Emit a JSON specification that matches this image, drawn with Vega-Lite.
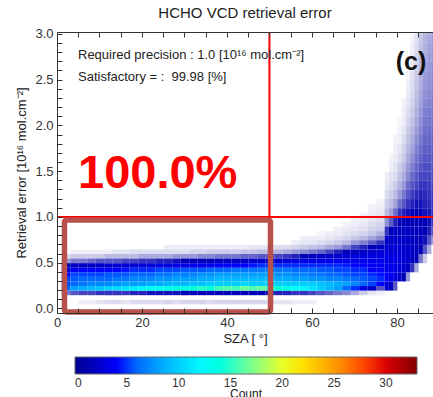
{
"$schema":"https://vega.github.io/schema/vega-lite/v6.json",
"width":376,"height":281,
"autosize":{"type":"none"},
"padding":{"left":57,"top":32,"right":0,"bottom":84},
"background":"white",
"title":{"text":"HCHO VCD retrieval error","fontSize":15,"fontWeight":"normal","font":"Liberation Sans","color":"#222","anchor":"middle","offset":7},
"config":{"font":"Liberation Sans","view":{"stroke":null},
 "axis":{"domainColor":"#333","tickColor":"#333","labelColor":"#333","labelFontSize":13,"titleFontSize":13,"titleFontWeight":"normal","titleColor":"#222","grid":false,"labelFont":"Liberation Sans","titleFont":"Liberation Sans"},
 "legend":{"labelFontSize":12,"labelColor":"#333","titleFontSize":12,"titleFontWeight":"normal","titleColor":"#222","labelFont":"Liberation Sans","titleFont":"Liberation Sans"}},
"resolve":{"axis":{"x":"independent","y":"independent"}},
"datasets":{
"main":[
{"a":1,"e":0.15,"n":0.8},{"a":1,"e":0.2,"n":6},{"a":1,"e":0.25,"n":5},{"a":1,"e":0.3,"n":5},{"a":1,"e":0.35,"n":4},{"a":1,"e":0.4,"n":3},{"a":1,"e":0.45,"n":1.5},{"a":1,"e":0.5,"n":0.6},{"a":1,"e":0.55,"n":0.2},
{"a":3,"e":0.15,"n":1},{"a":3,"e":0.2,"n":8},{"a":3,"e":0.25,"n":6},{"a":3,"e":0.3,"n":5.5},{"a":3,"e":0.35,"n":5},{"a":3,"e":0.4,"n":3.5},{"a":3,"e":0.45,"n":2},{"a":3,"e":0.5,"n":0.8},{"a":3,"e":0.55,"n":0.3},{"a":3,"e":0.6,"n":0.1},
{"a":5,"e":0.05,"n":0.1},{"a":5,"e":0.15,"n":1.1},{"a":5,"e":0.2,"n":8.5},{"a":5,"e":0.25,"n":6.5},{"a":5,"e":0.3,"n":6},{"a":5,"e":0.35,"n":5},{"a":5,"e":0.4,"n":4},{"a":5,"e":0.45,"n":2},{"a":5,"e":0.5,"n":0.8},{"a":5,"e":0.55,"n":0.3},{"a":5,"e":0.6,"n":0.1},
{"a":7,"e":0.05,"n":0.1},{"a":7,"e":0.15,"n":1.1},{"a":7,"e":0.2,"n":9},{"a":7,"e":0.25,"n":7},{"a":7,"e":0.3,"n":6},{"a":7,"e":0.35,"n":5},{"a":7,"e":0.4,"n":4},{"a":7,"e":0.45,"n":2},{"a":7,"e":0.5,"n":0.9},{"a":7,"e":0.55,"n":0.3},{"a":7,"e":0.6,"n":0.1},
{"a":9,"e":0.05,"n":0.15},{"a":9,"e":0.15,"n":1.2},{"a":9,"e":0.2,"n":9.5},{"a":9,"e":0.25,"n":7},{"a":9,"e":0.3,"n":6},{"a":9,"e":0.35,"n":5},{"a":9,"e":0.4,"n":4},{"a":9,"e":0.45,"n":2.2},{"a":9,"e":0.5,"n":1},{"a":9,"e":0.55,"n":0.3},{"a":9,"e":0.6,"n":0.1},
{"a":11,"e":0.05,"n":0.2},{"a":11,"e":0.15,"n":1.2},{"a":11,"e":0.2,"n":10},{"a":11,"e":0.25,"n":7},{"a":11,"e":0.3,"n":6},{"a":11,"e":0.35,"n":5.5},{"a":11,"e":0.4,"n":4},{"a":11,"e":0.45,"n":2.3},{"a":11,"e":0.5,"n":1},{"a":11,"e":0.55,"n":0.4},{"a":11,"e":0.6,"n":0.1},
{"a":13,"e":0.05,"n":0.2},{"a":13,"e":0.15,"n":1.2},{"a":13,"e":0.2,"n":10.5},{"a":13,"e":0.25,"n":7.5},{"a":13,"e":0.3,"n":6.5},{"a":13,"e":0.35,"n":5.5},{"a":13,"e":0.4,"n":4},{"a":13,"e":0.45,"n":2.5},{"a":13,"e":0.5,"n":1},{"a":13,"e":0.55,"n":0.4},{"a":13,"e":0.6,"n":0.15},
{"a":15,"e":0.05,"n":0.15},{"a":15,"e":0.15,"n":1.2},{"a":15,"e":0.2,"n":11},{"a":15,"e":0.25,"n":8},{"a":15,"e":0.3,"n":6.5},{"a":15,"e":0.35,"n":5.5},{"a":15,"e":0.4,"n":4.2},{"a":15,"e":0.45,"n":2.5},{"a":15,"e":0.5,"n":1.1},{"a":15,"e":0.55,"n":0.4},{"a":15,"e":0.6,"n":0.15},
{"a":17,"e":0.05,"n":0.2},{"a":17,"e":0.15,"n":1.3},{"a":17,"e":0.2,"n":11.5},{"a":17,"e":0.25,"n":8},{"a":17,"e":0.3,"n":7},{"a":17,"e":0.35,"n":6},{"a":17,"e":0.4,"n":4.5},{"a":17,"e":0.45,"n":2.6},{"a":17,"e":0.5,"n":1.1},{"a":17,"e":0.55,"n":0.4},{"a":17,"e":0.6,"n":0.2},
{"a":19,"e":0.05,"n":0.2},{"a":19,"e":0.15,"n":1.3},{"a":19,"e":0.2,"n":12},{"a":19,"e":0.25,"n":8},{"a":19,"e":0.3,"n":7},{"a":19,"e":0.35,"n":6},{"a":19,"e":0.4,"n":4.5},{"a":19,"e":0.45,"n":2.8},{"a":19,"e":0.5,"n":1.2},{"a":19,"e":0.55,"n":0.5},{"a":19,"e":0.6,"n":0.2},
{"a":21,"e":0.05,"n":0.2},{"a":21,"e":0.15,"n":1.4},{"a":21,"e":0.2,"n":12.5},{"a":21,"e":0.25,"n":8.5},{"a":21,"e":0.3,"n":7},{"a":21,"e":0.35,"n":6},{"a":21,"e":0.4,"n":4.5},{"a":21,"e":0.45,"n":2.8},{"a":21,"e":0.5,"n":1.2},{"a":21,"e":0.55,"n":0.5},{"a":21,"e":0.6,"n":0.2},
{"a":23,"e":0.05,"n":0.2},{"a":23,"e":0.15,"n":1.4},{"a":23,"e":0.2,"n":13},{"a":23,"e":0.25,"n":8.5},{"a":23,"e":0.3,"n":7.5},{"a":23,"e":0.35,"n":6.5},{"a":23,"e":0.4,"n":5},{"a":23,"e":0.45,"n":3},{"a":23,"e":0.5,"n":1.3},{"a":23,"e":0.55,"n":0.5},{"a":23,"e":0.6,"n":0.2},
{"a":25,"e":0.05,"n":0.25},{"a":25,"e":0.15,"n":1.4},{"a":25,"e":0.2,"n":13.5},{"a":25,"e":0.25,"n":9},{"a":25,"e":0.3,"n":7.5},{"a":25,"e":0.35,"n":6.5},{"a":25,"e":0.4,"n":5},{"a":25,"e":0.45,"n":3},{"a":25,"e":0.5,"n":1.3},{"a":25,"e":0.55,"n":0.5},{"a":25,"e":0.6,"n":0.2},{"a":25,"e":0.65,"n":0.1},
{"a":27,"e":0.05,"n":0.2},{"a":27,"e":0.15,"n":1.4},{"a":27,"e":0.2,"n":14},{"a":27,"e":0.25,"n":9},{"a":27,"e":0.3,"n":8},{"a":27,"e":0.35,"n":7},{"a":27,"e":0.4,"n":5},{"a":27,"e":0.45,"n":3.2},{"a":27,"e":0.5,"n":1.4},{"a":27,"e":0.55,"n":0.6},{"a":27,"e":0.6,"n":0.2},{"a":27,"e":0.65,"n":0.1},
{"a":29,"e":0.05,"n":0.25},{"a":29,"e":0.15,"n":1.5},{"a":29,"e":0.2,"n":14},{"a":29,"e":0.25,"n":9},{"a":29,"e":0.3,"n":8},{"a":29,"e":0.35,"n":7},{"a":29,"e":0.4,"n":5.5},{"a":29,"e":0.45,"n":3.2},{"a":29,"e":0.5,"n":1.5},{"a":29,"e":0.55,"n":0.6},{"a":29,"e":0.6,"n":0.2},{"a":29,"e":0.65,"n":0.1},
{"a":31,"e":0.05,"n":0.25},{"a":31,"e":0.15,"n":1.5},{"a":31,"e":0.2,"n":14.5},{"a":31,"e":0.25,"n":9.5},{"a":31,"e":0.3,"n":8},{"a":31,"e":0.35,"n":7},{"a":31,"e":0.4,"n":5.5},{"a":31,"e":0.45,"n":3.4},{"a":31,"e":0.5,"n":1.5},{"a":31,"e":0.55,"n":0.6},{"a":31,"e":0.6,"n":0.25},{"a":31,"e":0.65,"n":0.1},
{"a":33,"e":0.05,"n":0.25},{"a":33,"e":0.15,"n":1.5},{"a":33,"e":0.2,"n":15},{"a":33,"e":0.25,"n":9.5},{"a":33,"e":0.3,"n":8.5},{"a":33,"e":0.35,"n":7.5},{"a":33,"e":0.4,"n":5.5},{"a":33,"e":0.45,"n":3.5},{"a":33,"e":0.5,"n":1.6},{"a":33,"e":0.55,"n":0.7},{"a":33,"e":0.6,"n":0.25},{"a":33,"e":0.65,"n":0.1},
{"a":35,"e":0.05,"n":0.2},{"a":35,"e":0.15,"n":1.5},{"a":35,"e":0.2,"n":14.5},{"a":35,"e":0.25,"n":10},{"a":35,"e":0.3,"n":8.5},{"a":35,"e":0.35,"n":7.5},{"a":35,"e":0.4,"n":6},{"a":35,"e":0.45,"n":3.5},{"a":35,"e":0.5,"n":1.6},{"a":35,"e":0.55,"n":0.7},{"a":35,"e":0.6,"n":0.3},{"a":35,"e":0.65,"n":0.1},
{"a":37,"e":0.05,"n":0.25},{"a":37,"e":0.15,"n":1.5},{"a":37,"e":0.2,"n":15.5},{"a":37,"e":0.25,"n":10},{"a":37,"e":0.3,"n":9},{"a":37,"e":0.35,"n":8},{"a":37,"e":0.4,"n":6},{"a":37,"e":0.45,"n":3.8},{"a":37,"e":0.5,"n":1.8},{"a":37,"e":0.55,"n":0.8},{"a":37,"e":0.6,"n":0.3},{"a":37,"e":0.65,"n":0.1},
{"a":39,"e":0.05,"n":0.25},{"a":39,"e":0.15,"n":1.5},{"a":39,"e":0.2,"n":16},{"a":39,"e":0.25,"n":10},{"a":39,"e":0.3,"n":9},{"a":39,"e":0.35,"n":8},{"a":39,"e":0.4,"n":6},{"a":39,"e":0.45,"n":4},{"a":39,"e":0.5,"n":1.8},{"a":39,"e":0.55,"n":0.8},{"a":39,"e":0.6,"n":0.3},{"a":39,"e":0.65,"n":0.1},
{"a":41,"e":0.05,"n":0.25},{"a":41,"e":0.15,"n":1.5},{"a":41,"e":0.2,"n":15.5},{"a":41,"e":0.25,"n":10},{"a":41,"e":0.3,"n":9},{"a":41,"e":0.35,"n":8},{"a":41,"e":0.4,"n":6.5},{"a":41,"e":0.45,"n":4},{"a":41,"e":0.5,"n":2},{"a":41,"e":0.55,"n":0.8},{"a":41,"e":0.6,"n":0.3},{"a":41,"e":0.65,"n":0.1},
{"a":43,"e":0.05,"n":0.25},{"a":43,"e":0.15,"n":1.5},{"a":43,"e":0.2,"n":16.5},{"a":43,"e":0.25,"n":10.5},{"a":43,"e":0.3,"n":9},{"a":43,"e":0.35,"n":8},{"a":43,"e":0.4,"n":6.5},{"a":43,"e":0.45,"n":4},{"a":43,"e":0.5,"n":2},{"a":43,"e":0.55,"n":0.9},{"a":43,"e":0.6,"n":0.35},{"a":43,"e":0.65,"n":0.1},
{"a":45,"e":0.05,"n":0.25},{"a":45,"e":0.15,"n":1.5},{"a":45,"e":0.2,"n":16},{"a":45,"e":0.25,"n":10},{"a":45,"e":0.3,"n":9},{"a":45,"e":0.35,"n":8},{"a":45,"e":0.4,"n":6.5},{"a":45,"e":0.45,"n":4.2},{"a":45,"e":0.5,"n":2.2},{"a":45,"e":0.55,"n":0.9},{"a":45,"e":0.6,"n":0.35},{"a":45,"e":0.65,"n":0.15},
{"a":47,"e":0.05,"n":0.25},{"a":47,"e":0.15,"n":1.5},{"a":47,"e":0.2,"n":16.5},{"a":47,"e":0.25,"n":10},{"a":47,"e":0.3,"n":9},{"a":47,"e":0.35,"n":8},{"a":47,"e":0.4,"n":6.5},{"a":47,"e":0.45,"n":4.5},{"a":47,"e":0.5,"n":2.3},{"a":47,"e":0.55,"n":1},{"a":47,"e":0.6,"n":0.4},{"a":47,"e":0.65,"n":0.15},
{"a":49,"e":0.05,"n":0.2},{"a":49,"e":0.15,"n":1.4},{"a":49,"e":0.2,"n":15.5},{"a":49,"e":0.25,"n":10},{"a":49,"e":0.3,"n":9},{"a":49,"e":0.35,"n":8},{"a":49,"e":0.4,"n":6.5},{"a":49,"e":0.45,"n":4.5},{"a":49,"e":0.5,"n":2.4},{"a":49,"e":0.55,"n":1},{"a":49,"e":0.6,"n":0.4},{"a":49,"e":0.65,"n":0.15},
{"a":51,"e":0.05,"n":0.15},{"a":51,"e":0.15,"n":1.3},{"a":51,"e":0.2,"n":14.5},{"a":51,"e":0.25,"n":10},{"a":51,"e":0.3,"n":8.5},{"a":51,"e":0.35,"n":7.5},{"a":51,"e":0.4,"n":6.5},{"a":51,"e":0.45,"n":4.5},{"a":51,"e":0.5,"n":2.5},{"a":51,"e":0.55,"n":1.1},{"a":51,"e":0.6,"n":0.45},{"a":51,"e":0.65,"n":0.2},
{"a":53,"e":0.05,"n":0.15},{"a":53,"e":0.15,"n":1.3},{"a":53,"e":0.2,"n":13.5},{"a":53,"e":0.25,"n":10},{"a":53,"e":0.3,"n":8.5},{"a":53,"e":0.35,"n":7.5},{"a":53,"e":0.4,"n":6.5},{"a":53,"e":0.45,"n":4.5},{"a":53,"e":0.5,"n":2.6},{"a":53,"e":0.55,"n":1.2},{"a":53,"e":0.6,"n":0.5},{"a":53,"e":0.65,"n":0.2},
{"a":55,"e":0.05,"n":0.1},{"a":55,"e":0.15,"n":1.2},{"a":55,"e":0.2,"n":12.5},{"a":55,"e":0.25,"n":10},{"a":55,"e":0.3,"n":8},{"a":55,"e":0.35,"n":7},{"a":55,"e":0.4,"n":6},{"a":55,"e":0.45,"n":4.5},{"a":55,"e":0.5,"n":2.8},{"a":55,"e":0.55,"n":1.3},{"a":55,"e":0.6,"n":0.6},{"a":55,"e":0.65,"n":0.25},{"a":55,"e":0.7,"n":0.1},
{"a":57,"e":0.05,"n":0.1},{"a":57,"e":0.15,"n":1.2},{"a":57,"e":0.2,"n":12},{"a":57,"e":0.25,"n":10},{"a":57,"e":0.3,"n":8},{"a":57,"e":0.35,"n":7},{"a":57,"e":0.4,"n":6},{"a":57,"e":0.45,"n":4.5},{"a":57,"e":0.5,"n":3},{"a":57,"e":0.55,"n":1.5},{"a":57,"e":0.6,"n":0.7},{"a":57,"e":0.65,"n":0.3},{"a":57,"e":0.7,"n":0.15},{"a":57,"e":0.75,"n":0.1},
{"a":59,"e":0.05,"n":0.1},{"a":59,"e":0.15,"n":1.1},{"a":59,"e":0.2,"n":11},{"a":59,"e":0.25,"n":10},{"a":59,"e":0.3,"n":7.5},{"a":59,"e":0.35,"n":6.5},{"a":59,"e":0.4,"n":6},{"a":59,"e":0.45,"n":4.5},{"a":59,"e":0.5,"n":3},{"a":59,"e":0.55,"n":1.8},{"a":59,"e":0.6,"n":0.8},{"a":59,"e":0.65,"n":0.35},{"a":59,"e":0.7,"n":0.15},{"a":59,"e":0.75,"n":0.1},
{"a":61,"e":0.15,"n":1},{"a":61,"e":0.2,"n":10},{"a":61,"e":0.25,"n":9.5},{"a":61,"e":0.3,"n":7.5},{"a":61,"e":0.35,"n":6.5},{"a":61,"e":0.4,"n":5.5},{"a":61,"e":0.45,"n":4.5},{"a":61,"e":0.5,"n":3.2},{"a":61,"e":0.55,"n":2},{"a":61,"e":0.6,"n":0.9},{"a":61,"e":0.65,"n":0.4},{"a":61,"e":0.7,"n":0.2},{"a":61,"e":0.75,"n":0.1},{"a":61,"e":0.8,"n":0.05},
{"a":63,"e":0.15,"n":0.9},{"a":63,"e":0.2,"n":9},{"a":63,"e":0.25,"n":9},{"a":63,"e":0.3,"n":7},{"a":63,"e":0.35,"n":6},{"a":63,"e":0.4,"n":5.5},{"a":63,"e":0.45,"n":4.5},{"a":63,"e":0.5,"n":3.4},{"a":63,"e":0.55,"n":2.2},{"a":63,"e":0.6,"n":1.1},{"a":63,"e":0.65,"n":0.5},{"a":63,"e":0.7,"n":0.25},{"a":63,"e":0.75,"n":0.14},{"a":63,"e":0.8,"n":0.1},
{"a":65,"e":0.15,"n":0.8},{"a":65,"e":0.2,"n":8},{"a":65,"e":0.25,"n":8.5},{"a":65,"e":0.3,"n":7},{"a":65,"e":0.35,"n":6},{"a":65,"e":0.4,"n":5},{"a":65,"e":0.45,"n":4.5},{"a":65,"e":0.5,"n":3.4},{"a":65,"e":0.55,"n":2.4},{"a":65,"e":0.6,"n":1.3},{"a":65,"e":0.65,"n":0.6},{"a":65,"e":0.7,"n":0.32},{"a":65,"e":0.75,"n":0.18},{"a":65,"e":0.8,"n":0.12},{"a":65,"e":0.85,"n":0.08},
{"a":67,"e":0.15,"n":0.7},{"a":67,"e":0.2,"n":6},{"a":67,"e":0.25,"n":8},{"a":67,"e":0.3,"n":6.5},{"a":67,"e":0.35,"n":5.5},{"a":67,"e":0.4,"n":5},{"a":67,"e":0.45,"n":4.3},{"a":67,"e":0.5,"n":3.4},{"a":67,"e":0.55,"n":2.6},{"a":67,"e":0.6,"n":1.6},{"a":67,"e":0.65,"n":0.8},{"a":67,"e":0.7,"n":0.42},{"a":67,"e":0.75,"n":0.24},{"a":67,"e":0.8,"n":0.16},{"a":67,"e":0.85,"n":0.11},{"a":67,"e":0.9,"n":0.08},
{"a":69,"e":0.15,"n":0.5},{"a":69,"e":0.2,"n":4.5},{"a":69,"e":0.25,"n":7},{"a":69,"e":0.3,"n":6},{"a":69,"e":0.35,"n":5},{"a":69,"e":0.4,"n":4.5},{"a":69,"e":0.45,"n":4},{"a":69,"e":0.5,"n":3.4},{"a":69,"e":0.55,"n":2.8},{"a":69,"e":0.6,"n":1.9},{"a":69,"e":0.65,"n":1.1},{"a":69,"e":0.7,"n":0.6},{"a":69,"e":0.75,"n":0.34},{"a":69,"e":0.8,"n":0.2},{"a":69,"e":0.85,"n":0.14},{"a":69,"e":0.9,"n":0.1},{"a":69,"e":0.95,"n":0.08},
{"a":71,"e":0.15,"n":0.3},{"a":71,"e":0.2,"n":3},{"a":71,"e":0.25,"n":6},{"a":71,"e":0.3,"n":5.5},{"a":71,"e":0.35,"n":5},{"a":71,"e":0.4,"n":4.5},{"a":71,"e":0.45,"n":4},{"a":71,"e":0.5,"n":3.4},{"a":71,"e":0.55,"n":2.9},{"a":71,"e":0.6,"n":2.1},{"a":71,"e":0.65,"n":1.3},{"a":71,"e":0.7,"n":0.75},{"a":71,"e":0.75,"n":0.42},{"a":71,"e":0.8,"n":0.26},{"a":71,"e":0.85,"n":0.18},{"a":71,"e":0.9,"n":0.14},{"a":71,"e":0.95,"n":0.1},{"a":71,"e":1.0,"n":0.08},
{"a":73,"e":0.15,"n":0.15},{"a":73,"e":0.2,"n":2},{"a":73,"e":0.25,"n":5},{"a":73,"e":0.3,"n":5},{"a":73,"e":0.35,"n":4.5},{"a":73,"e":0.4,"n":4},{"a":73,"e":0.45,"n":3.8},{"a":73,"e":0.5,"n":3.4},{"a":73,"e":0.55,"n":3},{"a":73,"e":0.6,"n":2.3},{"a":73,"e":0.65,"n":1.5},{"a":73,"e":0.7,"n":0.95},{"a":73,"e":0.75,"n":0.55},{"a":73,"e":0.8,"n":0.34},{"a":73,"e":0.85,"n":0.25},{"a":73,"e":0.9,"n":0.2},{"a":73,"e":0.95,"n":0.16},{"a":73,"e":1.0,"n":0.12},{"a":73,"e":1.05,"n":0.1},{"a":73,"e":1.1,"n":0.07},
{"a":75,"e":0.15,"n":0.1},{"a":75,"e":0.2,"n":1},{"a":75,"e":0.25,"n":4},{"a":75,"e":0.3,"n":4.5},{"a":75,"e":0.35,"n":4.2},{"a":75,"e":0.4,"n":4},{"a":75,"e":0.45,"n":3.6},{"a":75,"e":0.5,"n":3.3},{"a":75,"e":0.55,"n":3},{"a":75,"e":0.6,"n":2.5},{"a":75,"e":0.65,"n":1.8},{"a":75,"e":0.7,"n":1.2},{"a":75,"e":0.75,"n":0.7},{"a":75,"e":0.8,"n":0.45},{"a":75,"e":0.85,"n":0.3},{"a":75,"e":0.9,"n":0.25},{"a":75,"e":0.95,"n":0.2},{"a":75,"e":1.0,"n":0.16},{"a":75,"e":1.05,"n":0.12},{"a":75,"e":1.1,"n":0.1},{"a":75,"e":1.15,"n":0.07}
],
"tail":[
{"a":77,"e":0.2,"n":2.5},{"a":77,"e":0.3,"n":4},{"a":77,"e":0.4,"n":3.5},{"a":77,"e":0.5,"n":3.2},{"a":77,"e":0.6,"n":2.7},{"a":77,"e":0.7,"n":2},{"a":77,"e":0.8,"n":1.2},{"a":77,"e":0.9,"n":0.65},{"a":77,"e":1.0,"n":0.4},{"a":77,"e":1.1,"n":0.28},{"a":77,"e":1.2,"n":0.2},{"a":77,"e":1.3,"n":0.14},{"a":77,"e":1.4,"n":0.1},
{"a":78,"e":0.2,"n":2},{"a":78,"e":0.3,"n":3.5},{"a":78,"e":0.4,"n":3.5},{"a":78,"e":0.5,"n":3},{"a":78,"e":0.6,"n":2.6},{"a":78,"e":0.7,"n":2.1},{"a":78,"e":0.8,"n":1.5},{"a":78,"e":0.9,"n":0.95},{"a":78,"e":1.0,"n":0.55},{"a":78,"e":1.1,"n":0.38},{"a":78,"e":1.2,"n":0.28},{"a":78,"e":1.3,"n":0.2},{"a":78,"e":1.4,"n":0.15},{"a":78,"e":1.5,"n":0.1},{"a":78,"e":1.6,"n":0.07},
{"a":79,"e":0.2,"n":1},{"a":79,"e":0.3,"n":3},{"a":79,"e":0.4,"n":3.2},{"a":79,"e":0.5,"n":3},{"a":79,"e":0.6,"n":2.7},{"a":79,"e":0.7,"n":2.3},{"a":79,"e":0.8,"n":1.8},{"a":79,"e":0.9,"n":1.3},{"a":79,"e":1.0,"n":0.85},{"a":79,"e":1.1,"n":0.55},{"a":79,"e":1.2,"n":0.4},{"a":79,"e":1.3,"n":0.3},{"a":79,"e":1.4,"n":0.22},{"a":79,"e":1.5,"n":0.16},{"a":79,"e":1.6,"n":0.12},{"a":79,"e":1.7,"n":0.1},{"a":79,"e":1.8,"n":0.07},
{"a":80,"e":0.3,"n":2.5},{"a":80,"e":0.4,"n":3},{"a":80,"e":0.5,"n":2.8},{"a":80,"e":0.6,"n":2.5},{"a":80,"e":0.7,"n":2.2},{"a":80,"e":0.8,"n":1.9},{"a":80,"e":0.9,"n":1.6},{"a":80,"e":1.0,"n":1.2},{"a":80,"e":1.1,"n":0.85},{"a":80,"e":1.2,"n":0.6},{"a":80,"e":1.3,"n":0.45},{"a":80,"e":1.4,"n":0.35},{"a":80,"e":1.5,"n":0.28},{"a":80,"e":1.6,"n":0.2},{"a":80,"e":1.7,"n":0.15},{"a":80,"e":1.8,"n":0.1},{"a":80,"e":1.9,"n":0.08},{"a":80,"e":2.0,"n":0.06},
{"a":81,"e":0.3,"n":1.5},{"a":81,"e":0.4,"n":2.5},{"a":81,"e":0.5,"n":2.6},{"a":81,"e":0.6,"n":2.4},{"a":81,"e":0.7,"n":2.2},{"a":81,"e":0.8,"n":1.9},{"a":81,"e":0.9,"n":1.6},{"a":81,"e":1.0,"n":1.3},{"a":81,"e":1.1,"n":1},{"a":81,"e":1.2,"n":0.8},{"a":81,"e":1.3,"n":0.6},{"a":81,"e":1.4,"n":0.5},{"a":81,"e":1.5,"n":0.4},{"a":81,"e":1.6,"n":0.32},{"a":81,"e":1.7,"n":0.26},{"a":81,"e":1.8,"n":0.2},{"a":81,"e":1.9,"n":0.15},{"a":81,"e":2.0,"n":0.12},{"a":81,"e":2.1,"n":0.1},{"a":81,"e":2.2,"n":0.07},
{"a":82,"e":0.3,"n":0.6},{"a":82,"e":0.4,"n":2},{"a":82,"e":0.5,"n":2.3},{"a":82,"e":0.6,"n":2.2},{"a":82,"e":0.7,"n":2},{"a":82,"e":0.8,"n":1.8},{"a":82,"e":0.9,"n":1.6},{"a":82,"e":1.0,"n":1.4},{"a":82,"e":1.1,"n":1.2},{"a":82,"e":1.2,"n":1},{"a":82,"e":1.3,"n":0.85},{"a":82,"e":1.4,"n":0.7},{"a":82,"e":1.5,"n":0.6},{"a":82,"e":1.6,"n":0.5},{"a":82,"e":1.7,"n":0.42},{"a":82,"e":1.8,"n":0.36},{"a":82,"e":1.9,"n":0.3},{"a":82,"e":2.0,"n":0.25},{"a":82,"e":2.1,"n":0.2},{"a":82,"e":2.2,"n":0.16},{"a":82,"e":2.3,"n":0.12},{"a":82,"e":2.4,"n":0.1},{"a":82,"e":2.5,"n":0.07},
{"a":83,"e":0.4,"n":1.2},{"a":83,"e":0.5,"n":2},{"a":83,"e":0.6,"n":2},{"a":83,"e":0.7,"n":1.9},{"a":83,"e":0.8,"n":1.8},{"a":83,"e":0.9,"n":1.6},{"a":83,"e":1.0,"n":1.5},{"a":83,"e":1.1,"n":1.3},{"a":83,"e":1.2,"n":1.15},{"a":83,"e":1.3,"n":1},{"a":83,"e":1.4,"n":0.88},{"a":83,"e":1.5,"n":0.75},{"a":83,"e":1.6,"n":0.65},{"a":83,"e":1.7,"n":0.55},{"a":83,"e":1.8,"n":0.48},{"a":83,"e":1.9,"n":0.42},{"a":83,"e":2.0,"n":0.36},{"a":83,"e":2.1,"n":0.31},{"a":83,"e":2.2,"n":0.27},{"a":83,"e":2.3,"n":0.23},{"a":83,"e":2.4,"n":0.2},{"a":83,"e":2.5,"n":0.17},{"a":83,"e":2.6,"n":0.14},{"a":83,"e":2.7,"n":0.12},{"a":83,"e":2.8,"n":0.1},{"a":83,"e":2.9,"n":0.07},
{"a":84,"e":0.4,"n":0.5},{"a":84,"e":0.5,"n":1.5},{"a":84,"e":0.6,"n":1.8},{"a":84,"e":0.7,"n":1.8},{"a":84,"e":0.8,"n":1.7},{"a":84,"e":0.9,"n":1.6},{"a":84,"e":1.0,"n":1.5},{"a":84,"e":1.1,"n":1.4},{"a":84,"e":1.2,"n":1.25},{"a":84,"e":1.3,"n":1.1},{"a":84,"e":1.4,"n":1},{"a":84,"e":1.5,"n":0.9},{"a":84,"e":1.6,"n":0.82},{"a":84,"e":1.7,"n":0.74},{"a":84,"e":1.8,"n":0.65},{"a":84,"e":1.9,"n":0.58},{"a":84,"e":2.0,"n":0.52},{"a":84,"e":2.1,"n":0.46},{"a":84,"e":2.2,"n":0.42},{"a":84,"e":2.3,"n":0.38},{"a":84,"e":2.4,"n":0.34},{"a":84,"e":2.5,"n":0.3},{"a":84,"e":2.6,"n":0.27},{"a":84,"e":2.7,"n":0.24},{"a":84,"e":2.8,"n":0.21},{"a":84,"e":2.9,"n":0.18},{"a":84,"e":3.0,"n":0.15},
{"a":85,"e":0.5,"n":0.8},{"a":85,"e":0.6,"n":1.5},{"a":85,"e":0.7,"n":1.6},{"a":85,"e":0.8,"n":1.6},{"a":85,"e":0.9,"n":1.6},{"a":85,"e":1.0,"n":1.5},{"a":85,"e":1.1,"n":1.4},{"a":85,"e":1.2,"n":1.3},{"a":85,"e":1.3,"n":1.2},{"a":85,"e":1.4,"n":1.1},{"a":85,"e":1.5,"n":1},{"a":85,"e":1.6,"n":0.92},{"a":85,"e":1.7,"n":0.85},{"a":85,"e":1.8,"n":0.78},{"a":85,"e":1.9,"n":0.72},{"a":85,"e":2.0,"n":0.66},{"a":85,"e":2.1,"n":0.61},{"a":85,"e":2.2,"n":0.56},{"a":85,"e":2.3,"n":0.52},{"a":85,"e":2.4,"n":0.48},{"a":85,"e":2.5,"n":0.45},{"a":85,"e":2.6,"n":0.42},{"a":85,"e":2.7,"n":0.39},{"a":85,"e":2.8,"n":0.36},{"a":85,"e":2.9,"n":0.33},{"a":85,"e":3.0,"n":0.3},
{"a":86,"e":0.5,"n":0.3},{"a":86,"e":0.6,"n":1},{"a":86,"e":0.7,"n":1.4},{"a":86,"e":0.8,"n":1.5},{"a":86,"e":0.9,"n":1.5},{"a":86,"e":1.0,"n":1.4},{"a":86,"e":1.1,"n":1.3},{"a":86,"e":1.2,"n":1.25},{"a":86,"e":1.3,"n":1.2},{"a":86,"e":1.4,"n":1.1},{"a":86,"e":1.5,"n":1.05},{"a":86,"e":1.6,"n":1},{"a":86,"e":1.7,"n":0.95},{"a":86,"e":1.8,"n":0.9},{"a":86,"e":1.9,"n":0.85},{"a":86,"e":2.0,"n":0.8},{"a":86,"e":2.1,"n":0.75},{"a":86,"e":2.2,"n":0.7},{"a":86,"e":2.3,"n":0.66},{"a":86,"e":2.4,"n":0.62},{"a":86,"e":2.5,"n":0.58},{"a":86,"e":2.6,"n":0.54},{"a":86,"e":2.7,"n":0.5},{"a":86,"e":2.8,"n":0.47},{"a":86,"e":2.9,"n":0.44},{"a":86,"e":3.0,"n":0.4},
{"a":87,"e":0.6,"n":0.5},{"a":87,"e":0.7,"n":1},{"a":87,"e":0.8,"n":1.3},{"a":87,"e":0.9,"n":1.4},{"a":87,"e":1.0,"n":1.35},{"a":87,"e":1.1,"n":1.25},{"a":87,"e":1.2,"n":1.2},{"a":87,"e":1.3,"n":1.15},{"a":87,"e":1.4,"n":1.1},{"a":87,"e":1.5,"n":1.05},{"a":87,"e":1.6,"n":1},{"a":87,"e":1.7,"n":0.95},{"a":87,"e":1.8,"n":0.9},{"a":87,"e":1.9,"n":0.86},{"a":87,"e":2.0,"n":0.82},{"a":87,"e":2.1,"n":0.78},{"a":87,"e":2.2,"n":0.74},{"a":87,"e":2.3,"n":0.7},{"a":87,"e":2.4,"n":0.66},{"a":87,"e":2.5,"n":0.63},{"a":87,"e":2.6,"n":0.6},{"a":87,"e":2.7,"n":0.57},{"a":87,"e":2.8,"n":0.54},{"a":87,"e":2.9,"n":0.5},{"a":87,"e":3.0,"n":0.47},
{"a":88,"e":0.7,"n":0.6},{"a":88,"e":0.8,"n":1},{"a":88,"e":0.9,"n":1.2},{"a":88,"e":1.0,"n":1.25},{"a":88,"e":1.1,"n":1.2},{"a":88,"e":1.2,"n":1.15},{"a":88,"e":1.3,"n":1.1},{"a":88,"e":1.4,"n":1.06},{"a":88,"e":1.5,"n":1.02},{"a":88,"e":1.6,"n":0.98},{"a":88,"e":1.7,"n":0.94},{"a":88,"e":1.8,"n":0.9},{"a":88,"e":1.9,"n":0.87},{"a":88,"e":2.0,"n":0.84},{"a":88,"e":2.1,"n":0.8},{"a":88,"e":2.2,"n":0.77},{"a":88,"e":2.3,"n":0.74},{"a":88,"e":2.4,"n":0.71},{"a":88,"e":2.5,"n":0.68},{"a":88,"e":2.6,"n":0.65},{"a":88,"e":2.7,"n":0.62},{"a":88,"e":2.8,"n":0.6},{"a":88,"e":2.9,"n":0.57},{"a":88,"e":3.0,"n":0.54}
]},
"layer":[
{"data":{"name":"main"},"mark":{"type":"rect","clip":true},
 "encoding":{
  "x":{"field":"a","type":"quantitative","bin":{"binned":true,"step":2},"scale":{"domain":[0,88.5],"nice":false,"zero":false},
   "axis":{"orient":"bottom","values":[0,5,10,15,20,25,30,35,40,45,50,55,60,65,70,75,80,85],"labelExpr":"datum.value % 20 === 0 ? datum.label : ''","tickSize":-5,"labelPadding":8,"labelFlush":false,"labelOverlap":false,"title":"SZA [ °]","titlePadding":3}},
  "y":{"field":"e","type":"quantitative","bin":{"binned":true,"step":0.05},"scale":{"domain":[-0.05,3.02],"nice":false,"zero":false},
   "axis":{"orient":"left","values":[0,0.1,0.2,0.3,0.4,0.5,0.6,0.7,0.8,0.9,1,1.1,1.2,1.3,1.4,1.5,1.6,1.7,1.8,1.9,2,2.1,2.2,2.3,2.4,2.5,2.6,2.7,2.8,2.9,3],"labelExpr":"(datum.value*10) % 5 === 0 ? format(datum.value, '.1f') : ''","tickSize":-5,"labelPadding":9,"labelOverlap":false,"labelFlush":false,"title":"Retrieval error [10¹⁶ mol.cm⁻²]","titlePadding":6}},
  "color":{"field":"n","type":"quantitative","scale":{"domain":[0,4.1,12.4,20.6,28.9,33],"range":["#00008f","#0000ff","#00ffff","#ffff00","#ff0000","#800000"]},
   "legend":{"title":"Count","values":[0,5,10,15,20,25,30],"orient":"none","legendX":18,"legendY":325,"direction":"horizontal","gradientLength":342,"gradientThickness":17,"gradientStrokeColor":"#666","gradientStrokeWidth":1,"titleOrient":"bottom","titleAnchor":"middle","titlePadding":0,"labelAlign":"center","labelOffset":4}},
  "opacity":{"field":"n","type":"quantitative","scale":{"domain":[0,1.5],"range":[0,1],"clamp":true},"legend":null}}},
{"data":{"name":"tail"},"mark":{"type":"rect","clip":true},
 "encoding":{
  "x":{"field":"a","type":"quantitative","bin":{"binned":true,"step":1},
   "axis":{"orient":"top","values":[0,5,10,15,20,25,30,35,40,45,50,55,60,65,70,75,80,85],"labels":false,"tickSize":-5,"title":null}},
  "y":{"field":"e","type":"quantitative","bin":{"binned":true,"step":0.1},"axis":null},
  "color":{"field":"n","type":"quantitative","legend":{"title":"Count","values":[0,5,10,15,20,25,30],"orient":"none","legendX":18,"legendY":325,"direction":"horizontal","gradientLength":342,"gradientThickness":17,"gradientStrokeColor":"#666","gradientStrokeWidth":1,"titleOrient":"bottom","titleAnchor":"middle","titlePadding":0,"labelAlign":"center","labelOffset":4}},
  "opacity":{"field":"n","type":"quantitative","legend":null}}},
{"data":{"values":[{}]},"mark":{"type":"rule","color":"#ff0000","strokeWidth":2},
 "encoding":{"x":{"datum":50,"type":"quantitative","axis":null}}},
{"data":{"values":[{}]},"mark":{"type":"rule","color":"#ff0000","strokeWidth":2},
 "encoding":{"y":{"datum":1,"type":"quantitative","axis":null}}},
{"data":{"values":[{}]},"mark":{"type":"rect","filled":false,"stroke":"#b8504c","strokeWidth":5.5,"cornerRadius":2},
 "encoding":{"x":{"datum":1.76,"type":"quantitative","axis":null},"x2":{"datum":50.25},"y":{"datum":0.966,"type":"quantitative","axis":null},"y2":{"datum":-0.039}}},
{"data":{"values":[{}]},"mark":{"type":"text","align":"left","baseline":"middle","fontSize":13,"color":"#222","text":"Required precision : 1.0 [10¹⁶ mol.cm⁻²]"},
 "encoding":{"x":{"datum":4.94,"type":"quantitative","axis":null},"y":{"datum":2.769,"type":"quantitative","axis":null}}},
{"data":{"values":[{}]},"mark":{"type":"text","align":"left","baseline":"middle","fontSize":13,"color":"#222","text":"Satisfactory = :\u00a0 99.98 [%]"},
 "encoding":{"x":{"datum":4.94,"type":"quantitative","axis":null},"y":{"datum":2.523,"type":"quantitative","axis":null}}},
{"data":{"values":[{}]},"mark":{"type":"text","align":"center","baseline":"middle","fontSize":25,"fontWeight":"bold","color":"#111","text":"(c)"},
 "encoding":{"x":{"datum":83.32,"type":"quantitative","axis":null},"y":{"datum":2.692,"type":"quantitative","axis":null}}},
{"data":{"values":[{}]},"mark":{"type":"text","align":"left","baseline":"middle","fontSize":47,"fontWeight":"bold","color":"#ff0000","text":"100.0%"},
 "encoding":{"x":{"datum":4.94,"type":"quantitative","axis":null},"y":{"datum":1.469,"type":"quantitative","axis":null}}}
]
}
